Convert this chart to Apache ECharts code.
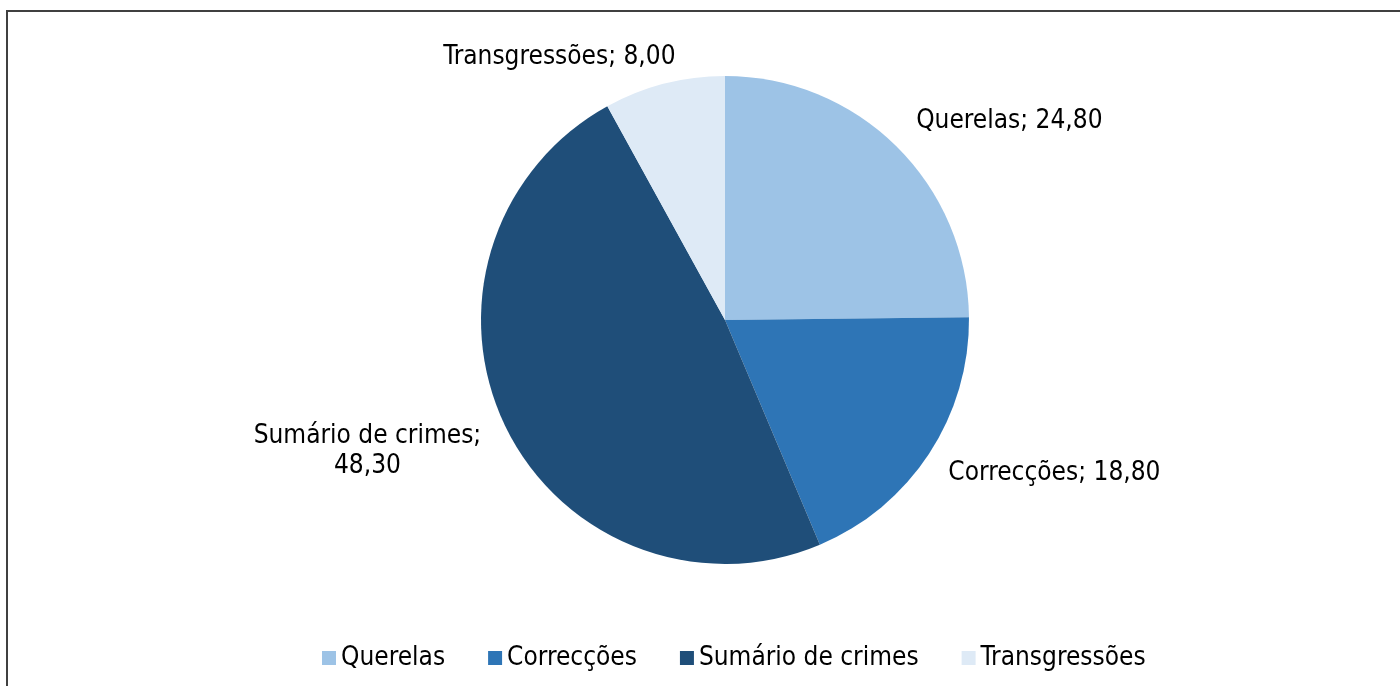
<!DOCTYPE html>
<html>
<head>
<meta charset="utf-8">
<script src="https://cdn.jsdelivr.net/npm/echarts@6/dist/echarts.min.js"></script>
<style>
html, body { margin: 0; padding: 0; background: #fff; }
#chart { width: 1400px; height: 686px; }
</style>
</head>
<body>
<div id="chart"></div>
<script>
var categories = ['Querelas', 'Correcções', 'Sumário de crimes', 'Transgressões'];
var values = [24.80, 18.80, 48.30, 8.00];
var colors = ['#9DC3E6', '#2E75B6', '#1F4E79', '#DEEAF6'];

// label placement tweaks (Excel puts its labels a bit differently)
var labelTweaks = [
	{ len: 35, dist: -5 },
	{ len: 35, dist: -10 },
	{ len: 58, dist: -28 },
	{ len: 27, dist: -18 }
];

var font = "'DejaVu Sans Condensed', 'DejaVu Sans', sans-serif";
var myChart = echarts.init(document.getElementById('chart'));

var pieData = [];
for(var i = 0; i < categories.length; i++) {
	var name = categories[i];
	var num = values[i].toFixed(2).replace('.', ',');
	var txt;
	if(name == 'Sumário de crimes') {
		txt = '{c|' + name + ';}\n{c|' + num + '}';
	} else {
		txt = '{c|' + name + '; ' + num + '}';
	}
	pieData.push({
		name: name,
		value: values[i],
		itemStyle: { color: colors[i] },
		labelLine: { show: false, length: labelTweaks[i].len, length2: 0 },
		label: { formatter: txt, distanceToLabelLine: labelTweaks[i].dist }
	});
}

var option = {
	animation: false,
	graphic: [{
		type: 'rect',
		shape: { x: 7, y: 11, width: 1420, height: 720 },
		style: { fill: 'none', stroke: '#404040', lineWidth: 2 },
		silent: true
	}],
	legend: {
		data: categories,
		top: 638,
		left: 317,
		itemWidth: 14,
		itemHeight: 14,
		itemGap: 43,
		icon: 'rect',
		textStyle: { fontFamily: font, fontSize: 26, color: '#000', lineHeight: 30 }
	},
	series: [{
		type: 'pie',
		center: [725, 320],
		radius: 244,
		startAngle: 90,
		clockwise: true,
		avoidLabelOverlap: false,
		label: {
			show: true,
			position: 'outside',
			color: '#000',
			fontFamily: font,
			fontSize: 26,
			rich: {
				c: { align: 'center', fontFamily: font, fontSize: 26, color: '#000', lineHeight: 30 }
			}
		},
		labelLine: { show: false },
		emphasis: { disabled: true },
		data: pieData
	}]
};
myChart.setOption(option);
</script>
</body>
</html>
